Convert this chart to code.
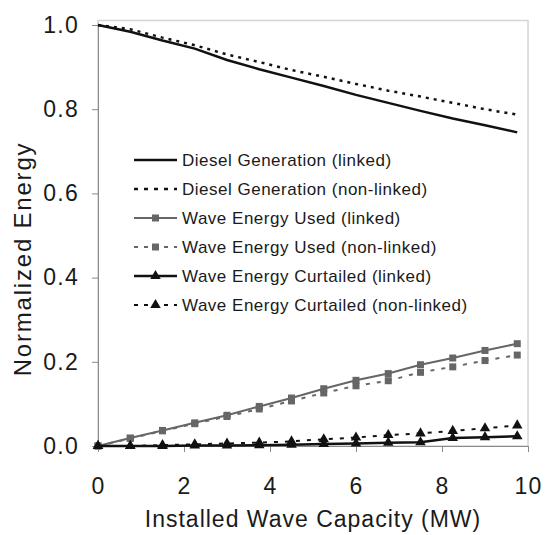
<!DOCTYPE html>
<html lang="en">
  <head>
    <meta charset="UTF-8" />
    <title>Normalized Energy vs Installed Wave Capacity</title>
    <style>
      body {
        margin: 0;
        overflow: hidden;
        background: #fff;
      }
      text {
        font-family: "Liberation Sans", Arial, sans-serif;
        fill: #1a1a1a;
      }
      .tick text {
        font-size: 23px;
        letter-spacing: 1.3px;
      }
      .tick line {
        stroke: #8a8a8a;
        stroke-width: 1px;
      }
      .domain {
        stroke: #8a8a8a;
        stroke-width: 1px;
      }
    </style>
    <script src="https://cdn.jsdelivr.net/npm/d3@7"></script>
  </head>
  <body>
    <script>
      const { select, scaleLinear, axisLeft, axisBottom, line, symbol, symbolSquare, symbolTriangle } = d3;

//Data
      const capacity = [0, 0.75, 1.5, 2.25, 3, 3.75, 4.5, 5.25, 6, 6.75, 7.5, 8.25, 9, 9.75];

      const dieselLinked = [1.0, 0.984, 0.963, 0.944, 0.917, 0.895, 0.875, 0.855, 0.834, 0.815, 0.796, 0.778, 0.762, 0.745];
      const dieselNonLinked = [1.0, 0.99, 0.97, 0.952, 0.93, 0.912, 0.893, 0.877, 0.86, 0.844, 0.83, 0.815, 0.8, 0.787];
      const waveUsedLinked = [0, 0.019, 0.037, 0.055, 0.073, 0.094, 0.114, 0.136, 0.156, 0.172, 0.193, 0.209, 0.227, 0.243];
      const waveUsedNonLinked = [0, 0.018, 0.036, 0.053, 0.07, 0.088, 0.107, 0.126, 0.143, 0.155, 0.175, 0.188, 0.203, 0.216];
      const curtailedLinked = [0, 0, 0, 0.001, 0.001, 0.002, 0.003, 0.005, 0.006, 0.008, 0.009, 0.019, 0.021, 0.023];
      const curtailedNonLinked = [0, 0, 0.002, 0.004, 0.006, 0.008, 0.011, 0.016, 0.02, 0.026, 0.03, 0.036, 0.042, 0.049];

      const seriesNames = [
        "Diesel Generation (linked)",
        "Diesel Generation (non-linked)",
        "Wave Energy Used (linked)",
        "Wave Energy Used (non-linked)",
        "Wave Energy Curtailed (linked)",
        "Wave Energy Curtailed (non-linked)",
      ];
      const seriesValues = [dieselLinked, dieselNonLinked, waveUsedLinked, waveUsedNonLinked, curtailedLinked, curtailedNonLinked];

      const xTicks = [0, 2, 4, 6, 8, 10];
      const yTicks = [0, 0.2, 0.4, 0.6, 0.8, 1.0];

//Styles
      const styles = [
        { color: "#111", width: 2.5, dash: null, marker: null },
        { color: "#111", width: 2.5, dash: "3,5", marker: null },
        { color: "#666", width: 2, dash: null, marker: "square" },
        { color: "#666", width: 2, dash: "4,7", marker: "square" },
        { color: "#111", width: 2.5, dash: null, marker: "triangle" },
        { color: "#111", width: 2, dash: "4,7", marker: "triangle" },
      ];

      const width = 545;
      const height = 535;
      const margin = { top: 25, right: 17, bottom: 89, left: 98 };

      const svg = select("body")
        .append("svg")
        .attr("width", width)
        .attr("height", height);

      const x = scaleLinear()
        .domain([0, 10])
        .range([margin.left, width - margin.right]);

      const y = scaleLinear()
        .domain([0, 1])
        .range([height - margin.bottom, margin.top]);

      // plot area frame (top/right in light gray)
      svg.append("rect")
        .attr("x", x(0))
        .attr("y", y(1) - 4.5)
        .attr("width", x(10) - x(0))
        .attr("height", y(0) - y(1) + 4.5)
        .attr("fill", "none")
        .attr("stroke", "#d4d4d4")
        .attr("stroke-width", 1.5);

      svg.append("g")
        .attr("transform", `translate(${x(0)}, 0)`)
        .call(axisLeft(y).tickValues(yTicks).tickFormat(d3.format(".1f")).tickSize(6).tickPadding(13));

      svg.append("g")
        .attr("transform", `translate(0, ${y(0)})`)
        .call(axisBottom(x).tickValues(xTicks).tickFormat(d3.format("d")).tickSize(6).tickPadding(26));

      svg.selectAll(".tick text").style("fill", "#1a1a1a");

      const markerPath = (type) =>
        type === "square"
          ? symbol(symbolSquare, 49)()
          : symbol(symbolTriangle, 48)();

      const lineGen = line()
        .x((d) => x(d.x))
        .y((d) => y(d.y));

      seriesValues.forEach((vals, i) => {
        const st = styles[i];
        const pts = capacity.map((c, j) => ({ x: c, y: vals[j] }));
        const g = svg.append("g");
        g.append("path")
          .datum(pts)
          .attr("d", lineGen)
          .attr("fill", "none")
          .attr("stroke", st.color)
          .attr("stroke-width", st.width)
          .attr("stroke-dasharray", st.dash);
        if (st.marker) {
          g.selectAll("path.m")
            .data(pts)
            .enter()
            .append("path")
            .attr("class", "m")
            .attr("d", markerPath(st.marker))
            .attr("transform", (d) => `translate(${x(d.x)},${y(d.y)})`)
            .attr("fill", st.color);
        }
      });

      // legend
      const legend = svg.append("g").attr("transform", "translate(134, 160)");
      seriesNames.forEach((name, i) => {
        const st = styles[i];
        const row = legend.append("g").attr("transform", `translate(0, ${i * 29})`);
        row.append("line")
          .attr("x1", 0)
          .attr("x2", 43)
          .attr("stroke", st.color)
          .attr("stroke-width", st.width)
          .attr("stroke-dasharray", st.dash ? "4,6" : null);
        if (st.marker) {
          row.append("path")
            .attr("d", markerPath(st.marker))
            .attr("transform", "translate(21.5,0)")
            .attr("fill", st.color);
        }
        row.append("text")
          .attr("x", 48)
          .attr("y", 6)
          .style("font-size", "17px")
          .style("letter-spacing", "0.5px")
          .text(name);
      });

      // axis titles
      svg.append("text")
        .attr("x", 313)
        .attr("y", 527)
        .attr("text-anchor", "middle")
        .style("font-size", "23px")
        .style("letter-spacing", "1px")
        .text("Installed Wave Capacity (MW)");

      svg.append("text")
        .attr("transform", `translate(31, 259) rotate(-90)`)
        .attr("text-anchor", "middle")
        .style("font-size", "24px")
        .style("letter-spacing", "1.8px")
        .text("Normalized Energy");
    </script>
  </body>
</html>
